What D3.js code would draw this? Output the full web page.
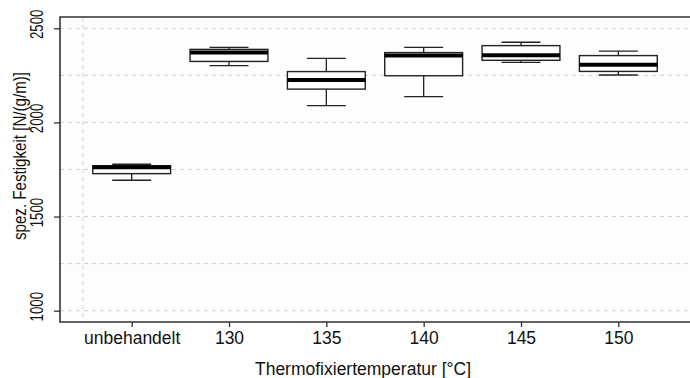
<!DOCTYPE html>
<html>
<head>
<meta charset="utf-8">
<script src="https://cdn.jsdelivr.net/npm/d3@7.9.0/dist/d3.min.js"></script>
<style>
  body { margin: 0; background: #fff; }
  svg { display: block; font-family: "Liberation Sans", Arial, sans-serif; }
</style>
</head>
<body>
<svg width="690" height="378"></svg>
<script>
// Categories and box statistics
const categories = ['unbehandelt', '130', '135', '140', '145', '150'];
const whiskerLow = [1693, 2302, 2089, 2137, 2319, 2252];
const q1 = [1728, 2324, 2177, 2248, 2330, 2271];
const median = [1762, 2372, 2225, 2355, 2357, 2307];
const q3 = [1770, 2388, 2270, 2371, 2408, 2355];
const whiskerHigh = [1778, 2399, 2340, 2399, 2426, 2379];
const yTicks = [1000, 1500, 2000, 2500];
const yGrid = [1000, 1250, 1500, 1750, 2000, 2250, 2500];

const svg = d3.select('svg');
const plot = { left: 60, right: 690, top: 17, bottom: 322 };

// y scale, R style with 4% extension
let y = d3.scaleLinear().domain([940, 2560]).range([plot.bottom, plot.top]);
// category positions
let x = d3.scalePoint().domain(categories).range([83, 667]).padding(0.5);
let step = x.step();
let boxW = step * 0.8;

// plot background
svg.append('rect')
  .attr('x', plot.left).attr('y', plot.top)
  .attr('width', plot.right - plot.left).attr('height', plot.bottom - plot.top)
  .attr('fill', '#fdfdfd');

// grid lines
svg.append('g')
  .selectAll('line')
  .data(yGrid)
  .join('line')
  .attr('x1', plot.left).attr('x2', plot.right)
  .attr('y1', d => y(d)).attr('y2', d => y(d))
  .attr('stroke', '#cfcfcf')
  .attr('stroke-width', 1)
  .attr('stroke-dasharray', '4,4');

svg.append('line')
  .attr('x1', 83).attr('x2', 83)
  .attr('y1', plot.top).attr('y2', plot.bottom)
  .attr('stroke', '#cfcfcf')
  .attr('stroke-dasharray', '4,4');

// boxes
let boxes = svg.append('g')
  .selectAll('g')
  .data(categories)
  .join('g')
  .attr('transform', d => `translate(${x(d)},0)`);

boxes.append('line')
  .attr('y1', (d, i) => y(whiskerLow[i])).attr('y2', (d, i) => y(q1[i]))
  .attr('stroke', '#222').attr('stroke-width', 1.3);
boxes.append('line')
  .attr('y1', (d, i) => y(q3[i])).attr('y2', (d, i) => y(whiskerHigh[i]))
  .attr('stroke', '#222').attr('stroke-width', 1.3);

// staples
[whiskerLow, whiskerHigh].forEach(arr => {
  boxes.append('line')
    .attr('x1', -boxW / 4).attr('x2', boxW / 4)
    .attr('y1', (d, i) => y(arr[i])).attr('y2', (d, i) => y(arr[i]))
    .attr('stroke', '#222').attr('stroke-width', 1.3);
});

boxes.append('rect')
  .attr('x', -boxW / 2).attr('width', boxW)
  .attr('y', (d, i) => y(q3[i]))
  .attr('height', (d, i) => y(q1[i]) - y(q3[i]))
  .attr('fill', '#fff')
  .attr('stroke', '#222').attr('stroke-width', 1.4);

boxes.append('line')
  .attr('x1', -boxW / 2).attr('x2', boxW / 2)
  .attr('y1', (d, i) => y(median[i])).attr('y2', (d, i) => y(median[i]))
  .attr('stroke', '#000').attr('stroke-width', 4);

// frame: left, top, bottom
svg.append('path')
  .attr('d', `M${plot.right},${plot.top}H${plot.left}V${plot.bottom}H${plot.right}`)
  .attr('fill', 'none')
  .attr('stroke', '#333')
  .attr('stroke-width', 1.6);

// x axis
let xAxis = svg.append('g')
  .attr('transform', `translate(0,${plot.bottom})`)
  .call(d3.axisBottom(x).tickSize(5).tickPadding(5));
xAxis.select('.domain').remove();
xAxis.selectAll('line').attr('stroke', '#333').attr('stroke-width', 1.3);
xAxis.selectAll('text')
  .attr('font-size', 17.5)
  .attr('fill', '#111')
  .attr('font-family', '"Liberation Sans", Arial, sans-serif');

// y axis (labels rotated, narrower along the axis as in the picture)
let yAxis = svg.append('g')
  .attr('transform', `translate(${plot.left},0)`)
  .call(d3.axisLeft(y).tickValues(yTicks).tickSize(6).tickFormat(d3.format('d')));
yAxis.select('.domain').remove();
yAxis.selectAll('line').attr('stroke', '#333').attr('stroke-width', 1.3);
yAxis.selectAll('text')
  .attr('font-size', 19)
  .attr('fill', '#111')
  .attr('font-family', '"Liberation Sans", Arial, sans-serif')
  .attr('x', null).attr('dy', null)
  .attr('text-anchor', 'middle')
  .attr('transform', 'translate(-17,-4.5) rotate(-90) scale(0.7,1)')
  .attr('y', 0);

// axis titles
svg.append('text')
  .attr('x', 363).attr('y', 375)
  .attr('text-anchor', 'middle')
  .attr('font-size', 17.5)
  .attr('fill', '#111')
  .text('Thermofixiertemperatur [°C]');

svg.append('text')
  .attr('transform', 'translate(26,156) rotate(-90)')
  .attr('text-anchor', 'middle')
  .attr('font-size', 18)
  .attr('fill', '#111')
  .attr('textLength', 168)
  .attr('lengthAdjust', 'spacingAndGlyphs')
  .text('spez. Festigkeit [N/(g/m)]');
</script>
</body>
</html>
